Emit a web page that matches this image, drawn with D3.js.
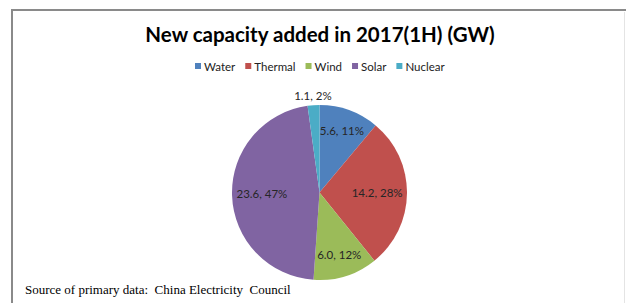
<!DOCTYPE html>
<html><head><meta charset="utf-8">
<script src="https://cdn.jsdelivr.net/npm/d3@7"></script>
<style>body{margin:0;background:#fff}svg{display:block}</style>
</head><body>
<svg id="c" width="626" height="303"></svg>
<script>
const categories = ["Water", "Thermal", "Wind", "Solar", "Nuclear"];
const values = [5.6, 14.2, 6.0, 23.6, 1.1];
const percentLabels = ["11%", "28%", "12%", "47%", "2%"];
const valueLabels = ["5.6", "14.2", "6.0", "23.6", "1.1"];
const colors = ["#4F81BD", "#C0504D", "#9BBB59", "#8064A2", "#4BACC6"];
const titleText = "New capacity added in 2017(1H) (GW)";
const sourceText = "Source of primary data:  China Electricity  Council";

const svg = d3.select("#c");

// frame
svg.append("path").attr("d", "M12,303 V10 H626").attr("fill", "none")
  .attr("stroke", "#8a8a8a").attr("stroke-width", 2);
svg.append("line").attr("x1", 624.5).attr("x2", 624.5).attr("y1", 12).attr("y2", 303)
  .attr("stroke", "#e4e4e4").attr("stroke-width", 1);

// title
svg.append("text").attr("x", 320).attr("y", 42).attr("text-anchor", "middle")
  .attr("font-family", "Lato, 'Open Sans', sans-serif").attr("font-weight", "bold")
  .attr("font-size", 20.5).attr("fill", "#000").text(titleText);

// legend
const lg = svg.append("g").attr("font-family", "Lato, 'Open Sans', sans-serif").attr("font-size", 11.5);
let x = 195;
categories.forEach((c, i) => {
  const g = lg.append("g");
  g.append("rect").attr("x", x).attr("y", 63).attr("width", 6).attr("height", 6).attr("fill", colors[i]);
  const t = g.append("text").attr("x", x + 9).attr("y", 71).attr("fill", "#222").text(c);
  x += 9 + t.node().getComputedTextLength() + 10;
});

// pie
const cx = 319.5, cy = 192.5, r = 87.5;
const pie = d3.pie().sort(null).value(d => d)(values);
const arc = d3.arc().innerRadius(0).outerRadius(r);
const pg = svg.append("g").attr("transform", `translate(${cx},${cy})`);
pg.selectAll("path").data(pie).join("path").attr("d", arc)
  .attr("fill", (d, i) => colors[i]);

// labels
const lab = pg.append("g").attr("font-family", "Lato, 'Open Sans', sans-serif").attr("font-size", 11.5).attr("fill", "#262626");
pie.forEach((d, i) => {
  const mid = (d.startAngle + d.endAngle) / 2;
  const t = lab.append("text").attr("text-anchor", "middle").text(valueLabels[i] + ", " + percentLabels[i]);
  const w = t.node().getComputedTextLength();
  const hh = 6;
  const frac = (d.endAngle - d.startAngle) / (2 * Math.PI);
  let dist;
  if (frac < 0.05) {
    dist = r + 9;
  } else {
    dist = 0.75 * r;
    const fits = dd => {
      const px = Math.sin(mid) * dd, py = -Math.cos(mid) * dd;
      return [[-1,-1],[1,-1],[-1,1],[1,1]].every(([sx, sy]) => Math.hypot(px + sx * w / 2, py + sy * hh) <= r - 4);
    };
    while (!fits(dist) && dist > 10) dist -= 0.5;
  }
  const px = Math.sin(mid) * dist, py = -Math.cos(mid) * dist;
  t.attr("x", px).attr("y", py + 4);
});

// source
svg.append("text").attr("x", 25).attr("y", 294)
  .attr("font-family", "'Liberation Serif', 'Times New Roman', serif").attr("font-size", 13)
  .attr("fill", "#000").style("white-space", "pre").text(sourceText);
</script>
</body></html>
